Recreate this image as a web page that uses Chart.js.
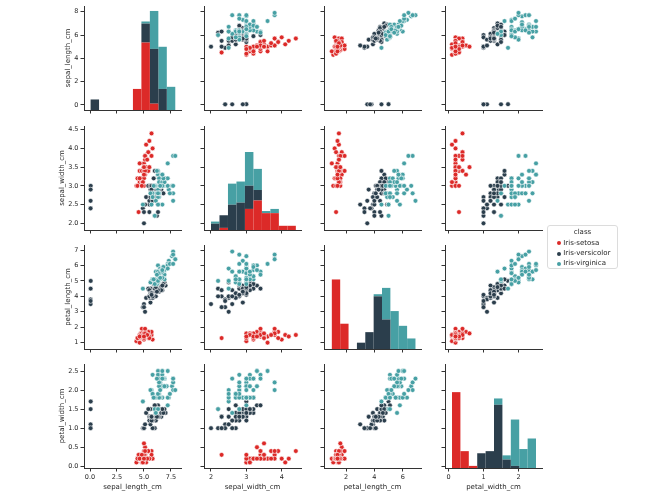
<!DOCTYPE html>
<html lang="en">
<head>
  <meta charset="UTF-8" />
  <title>Iris pairplot</title>
  <script src="https://cdn.jsdelivr.net/npm/chart.js"></script>
  <style>
    body {
      margin: 0;
      background: #fff;
      font-family: "DejaVu Sans", sans-serif;
    }

    #grid {
      position: relative;
      width: 650px;
      height: 501px;
      overflow: hidden;
    }

    #grid canvas {
      position: absolute;
    }

    .legend {
      position: absolute;
      left: 547px;
      top: 225px;
      width: 71px;
      height: 44px;
      box-sizing: border-box;
      border: 1px solid #dcdcdc;
      border-radius: 3px;
      color: #262626;
      font-size: 7px;
      line-height: 9px;
    }

    .legend div {
      position: absolute;
      white-space: nowrap;
    }

    .legend span {
      position: absolute;
      width: 4px;
      height: 4px;
      border-radius: 50%;
    }
  </style>
</head>
<body>

  <div id="grid"></div>

  <script>
    const varNames = ['sepal_length_cm', 'sepal_width_cm', 'petal_length_cm', 'petal_width_cm'];
    const classNames = ['Iris-setosa', 'Iris-versicolor', 'Iris-virginica'];
    const classColors = ['#dc2a28', '#2b3e4c', '#47a0a4'];

    // measurements per class (rows with missing petal width already left out)
    const setosaSepalLength = [5.1, 4.9, 4.7, 4.6, 5.0, 5.4, 4.6, 4.8, 4.3, 5.8, 5.7, 5.4, 5.1, 5.7, 5.1, 5.4, 5.1, 4.6, 5.1, 4.8, 5.0, 5.0, 5.2, 5.2, 4.7, 4.8, 5.4, 5.2, 5.5, 4.9, 5.0, 5.5, 4.9, 4.4, 5.1, 5.0, 4.5, 4.4, 5.0, 5.1, 4.8, 5.1, 4.6, 5.3, 5.0];
    const setosaSepalWidth = [3.5, 3.0, 3.2, 3.1, 3.6, 3.9, 3.4, 3.0, 3.0, 4.0, 4.4, 3.9, 3.5, 3.8, 3.8, 3.4, 3.7, 3.6, 3.3, 3.4, 3.0, 3.4, 3.5, 3.4, 3.2, 3.1, 3.4, 4.1, 4.2, 3.1, 3.2, 3.5, 3.1, 3.0, 3.4, 3.5, 2.3, 3.2, 3.5, 3.8, 3.0, 3.8, 3.2, 3.7, 3.3];
    const setosaPetalLength = [1.4, 1.4, 1.3, 1.5, 1.4, 1.7, 1.4, 1.4, 1.1, 1.2, 1.5, 1.3, 1.4, 1.7, 1.5, 1.7, 1.5, 1.0, 1.7, 1.9, 1.6, 1.6, 1.5, 1.4, 1.6, 1.6, 1.5, 1.5, 1.4, 1.5, 1.2, 1.3, 1.5, 1.3, 1.5, 1.3, 1.3, 1.3, 1.6, 1.9, 1.4, 1.6, 1.4, 1.5, 1.4];
    const setosaPetalWidth = [0.2, 0.2, 0.2, 0.2, 0.2, 0.4, 0.3, 0.1, 0.1, 0.2, 0.4, 0.4, 0.3, 0.3, 0.3, 0.2, 0.4, 0.2, 0.5, 0.2, 0.2, 0.4, 0.2, 0.2, 0.2, 0.2, 0.4, 0.1, 0.2, 0.1, 0.2, 0.2, 0.1, 0.2, 0.2, 0.3, 0.3, 0.2, 0.6, 0.4, 0.3, 0.2, 0.2, 0.2, 0.2];

    const versicolorSepalLength = [7.0, 6.4, 6.9, 5.5, 6.5, 5.7, 6.3, 4.9, 6.6, 5.2, 5.0, 5.9, 6.0, 6.1, 5.6, 6.7, 5.6, 5.8, 6.2, 5.6, 5.9, 6.1, 6.3, 6.1, 6.4, 6.6, 6.8, 0.067, 0.060, 0.057, 0.055, 0.055, 5.8, 6.0, 5.4, 6.0, 6.7, 6.3, 5.6, 5.5, 5.5, 6.1, 5.8, 5.0, 5.6, 5.7, 5.7, 6.2, 5.1, 5.7];
    const versicolorSepalWidth = [3.2, 3.2, 3.1, 2.3, 2.8, 2.8, 3.3, 2.4, 2.9, 2.7, 2.0, 3.0, 2.2, 2.9, 2.9, 3.1, 3.0, 2.7, 2.2, 2.5, 3.2, 2.8, 2.5, 2.8, 2.9, 3.0, 2.8, 3.0, 2.9, 2.6, 2.4, 2.4, 2.7, 2.7, 3.0, 3.4, 3.1, 2.3, 3.0, 2.5, 2.6, 3.0, 2.6, 2.3, 2.7, 3.0, 2.9, 2.9, 2.5, 2.8];
    const versicolorPetalLength = [4.7, 4.5, 4.9, 4.0, 4.6, 4.5, 4.7, 3.3, 4.6, 3.9, 3.5, 4.2, 4.0, 4.7, 3.6, 4.4, 4.5, 4.1, 4.5, 3.9, 4.8, 4.0, 4.9, 4.7, 4.3, 4.4, 4.8, 5.0, 4.5, 3.5, 3.8, 3.7, 3.9, 5.1, 4.5, 4.5, 4.7, 4.4, 4.1, 4.0, 4.4, 4.6, 4.0, 3.3, 4.2, 4.2, 4.2, 4.3, 3.0, 4.1];
    const versicolorPetalWidth = [1.4, 1.5, 1.5, 1.3, 1.5, 1.3, 1.6, 1.0, 1.3, 1.4, 1.0, 1.5, 1.0, 1.4, 1.3, 1.4, 1.5, 1.0, 1.5, 1.1, 1.8, 1.3, 1.5, 1.2, 1.3, 1.4, 1.4, 1.7, 1.5, 1.0, 1.1, 1.0, 1.2, 1.6, 1.5, 1.6, 1.5, 1.3, 1.3, 1.3, 1.2, 1.4, 1.2, 1.0, 1.3, 1.2, 1.3, 1.3, 1.1, 1.3];

    const virginicaSepalLength = [6.3, 5.8, 7.1, 6.3, 6.5, 7.6, 4.9, 7.3, 6.7, 7.2, 6.5, 6.4, 6.8, 5.7, 5.8, 6.4, 6.5, 7.7, 7.7, 6.0, 6.9, 5.6, 7.7, 6.3, 6.7, 7.2, 6.2, 6.1, 6.4, 7.2, 7.4, 7.9, 6.4, 6.3, 6.1, 7.7, 6.3, 6.4, 6.0, 6.9, 6.7, 6.9, 5.8, 6.8, 6.7, 6.7, 6.3, 6.5, 6.2, 5.9];
    const virginicaSepalWidth = [3.3, 2.7, 3.0, 2.9, 3.0, 3.0, 2.5, 2.9, 2.5, 3.6, 3.2, 2.7, 3.0, 2.5, 2.8, 3.2, 3.0, 3.8, 2.6, 2.2, 3.2, 2.8, 2.8, 2.7, 3.3, 3.2, 2.8, 3.0, 2.8, 3.0, 2.8, 3.8, 2.8, 2.8, 2.6, 3.0, 3.4, 3.1, 3.0, 3.1, 3.1, 3.1, 2.7, 3.2, 3.3, 3.0, 2.5, 3.0, 3.4, 3.0];
    const virginicaPetalLength = [6.0, 5.1, 5.9, 5.6, 5.8, 6.6, 4.5, 6.3, 5.8, 6.1, 5.1, 5.3, 5.5, 5.0, 5.1, 5.3, 5.5, 6.7, 6.9, 5.0, 5.7, 4.9, 6.7, 4.9, 5.7, 6.0, 4.8, 4.9, 5.6, 5.8, 6.1, 6.4, 5.6, 5.1, 5.6, 6.1, 5.6, 5.5, 4.8, 5.4, 5.6, 5.1, 5.1, 5.9, 5.7, 5.2, 5.0, 5.2, 5.4, 5.1];
    const virginicaPetalWidth = [2.5, 1.9, 2.1, 1.8, 2.2, 2.1, 1.7, 1.8, 1.8, 2.5, 2.0, 1.9, 2.1, 2.0, 2.4, 2.3, 1.8, 2.2, 2.3, 1.5, 2.3, 2.0, 2.0, 1.8, 2.1, 1.8, 1.8, 1.8, 2.1, 1.6, 1.9, 2.0, 2.2, 1.5, 1.4, 2.3, 2.4, 1.8, 1.8, 2.1, 2.4, 2.3, 1.9, 2.3, 2.5, 2.3, 1.9, 2.0, 2.3, 1.8];

    // axis ticks
    const colTicks = [[0, 2.5, 5, 7.5], [2, 3, 4], [2, 4, 6], [0, 1, 2]];
    const colTickLabels = [['0.0', '2.5', '5.0', '7.5'], ['2', '3', '4'], ['2', '4', '6'], ['0', '1', '2']];
    const rowTicks = [[0, 2, 4, 6, 8], [2, 2.5, 3, 3.5, 4, 4.5], [1, 2, 3, 4, 5, 6, 7], [0, 0.5, 1, 1.5, 2, 2.5]];
    const rowTickLabels = [['0', '2', '4', '6', '8'], ['2.0', '2.5', '3.0', '3.5', '4.0', '4.5'], ['1', '2', '3', '4', '5', '6', '7'], ['0.0', '0.5', '1.0', '1.5', '2.0', '2.5']];

    // axis limits
    const colMin = [-0.556, 1.802, 0.448, -0.1];
    const colMax = [8.43, 4.546, 7.29, 2.671];
    const rowMin = [-0.429, 1.821, 0.592, -0.045];
    const rowMax = [8.489, 4.599, 7.324, 2.684];

    const nBins = 10;

    const classData = [
      [setosaSepalLength, setosaSepalWidth, setosaPetalLength, setosaPetalWidth],
      [versicolorSepalLength, versicolorSepalWidth, versicolorPetalLength, versicolorPetalWidth],
      [virginicaSepalLength, virginicaSepalWidth, virginicaPetalLength, virginicaPetalWidth]
    ];

    // panel geometry
    const panelLeft = [84, 204, 324, 445];
    const panelTop = [6, 126, 245, 364];
    const panelW = 97;
    const panelH = 104;

    const textColor = '#262626';
    const lineColor = '#333333';
    const fontFamily = 'DejaVu Sans';

    Chart.defaults.font.family = fontFamily;
    Chart.defaults.color = textColor;

    // stacked histograms on shared bins (same as plt.hist with a list of arrays)
    const hists = varNames.map((_, v) => {
      const all = classData.flatMap(d => d[v]);
      const lo = Math.min(...all);
      const hi = Math.max(...all);
      const w = (hi - lo) / nBins;
      const counts = classData.map(d => {
        const c = new Array(nBins).fill(0);
        d[v].forEach(x => {
          let k = Math.floor((x - lo) / w + 1e-9);
          if (k >= nBins) k = nBins - 1;
          c[k]++;
        });
        return c;
      });
      const centers = [];
      for (let k = 0; k < nBins; k++) centers.push(lo + w * (k + 0.5));
      return { centers, counts };
    });
    let histMax = 0;
    hists.forEach(h => {
      for (let k = 0; k < nBins; k++) {
        histMax = Math.max(histMax, h.counts[0][k] + h.counts[1][k] + h.counts[2][k]);
      }
    });

    const grid = document.getElementById('grid');

    function makePanel(r, c) {
      const padL = c === 0 ? panelLeft[0] - 55 : 6;
      const padB = r === 3 ? 495 - (panelTop[3] + panelH) : 6;
      const padT = 5;
      const padR = 7;

      const canvas = document.createElement('canvas');
      canvas.width = panelW + padL + padR;
      canvas.height = panelH + padT + padB;
      canvas.style.left = (panelLeft[c] - padL) + 'px';
      canvas.style.top = (panelTop[r] - padT) + 'px';
      grid.appendChild(canvas);

      const titleX = [68.5, 62, 68.5, 62];

      const xScale = {
        type: 'linear',
        min: colMin[c],
        max: colMax[c],
        offset: false,
        stacked: true,
        grid: { drawOnChartArea: false, offset: false, color: lineColor, tickLength: 3.5, lineWidth: 1 },
        border: { display: true, color: lineColor, width: 1 },
        ticks: {
          display: r === 3,
          autoSkip: false,
          maxRotation: 0,
          minRotation: 0,
          padding: 1.5,
          font: { size: 6.5 },
          color: textColor,
          callback: (val, i) => colTickLabels[c][i]
        },
        title: {
          display: r === 3,
          text: varNames[c],
          font: { size: 7 },
          color: textColor,
          padding: { top: 0, bottom: 4.1 }
        },
        afterBuildTicks: s => { s.ticks = colTicks[c].map(v => ({ value: v })); },
        afterFit: s => {
          s.height = padB;
          s.paddingLeft = s.paddingRight = s.paddingTop = s.paddingBottom = 0;
        }
      };

      const yScale = {
        type: 'linear',
        position: 'left',
        min: rowMin[r],
        max: rowMax[r],
        grid: { drawOnChartArea: false, color: lineColor, tickLength: 3.5, lineWidth: 1 },
        border: { display: true, color: lineColor, width: 1 },
        ticks: {
          display: c === 0,
          autoSkip: false,
          padding: 2,
          font: { size: 6.5 },
          color: textColor,
          callback: (val, i) => rowTickLabels[r][i]
        },
        title: {
          display: c === 0,
          text: varNames[r],
          font: { size: 7 },
          color: textColor,
          padding: { top: titleX[r] - 55 - 4.2, bottom: 0 }
        },
        afterBuildTicks: s => { s.ticks = rowTicks[r].map(v => ({ value: v })); },
        afterFit: s => {
          s.width = padL;
          s.paddingLeft = s.paddingRight = s.paddingTop = s.paddingBottom = 0;
        }
      };

      const common = {
        responsive: false,
        animation: false,
        devicePixelRatio: 1,
        events: [],
        layout: { padding: { left: 0, top: padT, right: padR, bottom: 0 } },
        plugins: { legend: { display: false }, tooltip: { enabled: false } }
      };

      if (r === c) {
        const h = hists[r];
        new Chart(canvas, {
          type: 'bar',
          data: {
            datasets: classNames.map((name, k) => ({
              label: name,
              data: h.centers.map((x, i) => ({ x: x, y: h.counts[k][i] || null })),
              backgroundColor: classColors[k],
              borderWidth: 0,
              inflateAmount: 0,
              barPercentage: 1,
              categoryPercentage: 1,
              stack: 'all',
              yAxisID: 'yh'
            }))
          },
          options: {
            ...common,
            scales: {
              x: xScale,
              y: yScale,
              yh: { type: 'linear', display: false, min: 0, max: histMax * 1.05, stacked: true }
            }
          }
        });
      } else {
        new Chart(canvas, {
          type: 'scatter',
          data: {
            datasets: classNames.map((name, k) => ({
              label: name,
              data: classData[k][c].map((x, i) => ({ x: x, y: classData[k][r][i] })),
              backgroundColor: classColors[k],
              borderColor: '#ffffff',
              borderWidth: 0.6,
              pointRadius: 2.4,
              order: 2 - k
            }))
          },
          options: {
            ...common,
            scales: { x: xScale, y: yScale }
          }
        });
      }
    }

    for (let r = 0; r < 4; r++) {
      for (let c = 0; c < 4; c++) makePanel(r, c);
    }

    // legend
    const legend = document.createElement('div');
    legend.className = 'legend';
    const title = document.createElement('div');
    title.textContent = 'class';
    title.style.left = '0px';
    title.style.width = '69px';
    title.style.textAlign = 'center';
    title.style.top = '2px';
    legend.appendChild(title);
    const rowY = [17.3, 27.7, 37.7];
    classNames.forEach((name, k) => {
      const dot = document.createElement('span');
      dot.style.background = classColors[k];
      dot.style.left = '9.3px';
      dot.style.top = (rowY[k] - 2) + 'px';
      legend.appendChild(dot);
      const item = document.createElement('div');
      item.textContent = name;
      item.style.left = '15.3px';
      item.style.top = (rowY[k] - 4.5) + 'px';
      legend.appendChild(item);
    });
    grid.appendChild(legend);
  </script>
</body>
</html>
